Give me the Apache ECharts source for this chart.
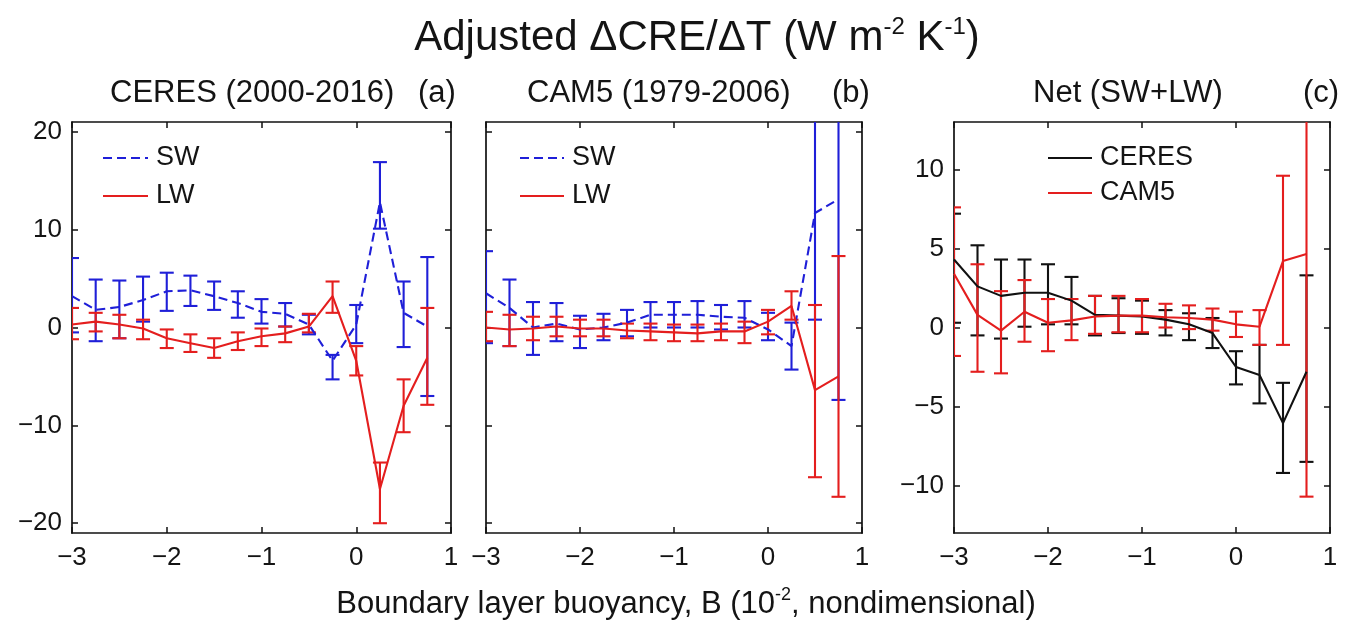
<!DOCTYPE html>
<html>
<head>
<meta charset="utf-8">
<script src="https://cdn.jsdelivr.net/npm/echarts@6/dist/echarts.min.js"></script>
<style>
html,body{margin:0;padding:0;background:#fff;}
#chart{width:1354px;height:626px;}
</style>
</head>
<body>
<div id="chart"></div>
<script>
// ---------- data ----------
const xs = [-3, -2.75, -2.5, -2.25, -2, -1.75, -1.5, -1.25, -1, -0.75, -0.5, -0.25, 0, 0.25, 0.5, 0.75];

// Panel (a) CERES (2000-2016)
const swA    = [3.2, 1.8, 2.1, 2.8, 3.7, 3.8, 3.2, 2.5, 1.6, 1.4, 0.3, -3.4, 0.3, 12.8, 1.5, 0.1];
const swALo  = [-0.5, -1.4, -1.1, 0.6, 1.7, 2.2, 1.8, 1.0, 0.4, 0.1, -0.7, -5.3, -1.6, 10.1, -2.0, -7.0];
const swAHi  = [7.1, 4.9, 4.8, 5.2, 5.6, 5.3, 4.7, 3.7, 2.9, 2.5, 1.3, -2.8, 2.3, 16.9, 4.7, 7.2];
const lwA    = [0.3, 0.6, 0.3, -0.1, -1.1, -1.6, -2.1, -1.4, -0.9, -0.6, 0.1, 3.2, -3.4, -16.5, -8.0, -3.1];
const lwALo  = [-1.2, -0.4, -1.1, -1.2, -2.1, -2.5, -3.1, -2.3, -1.9, -1.5, -0.5, 1.5, -4.9, -20.0, -10.7, -7.9];
const lwAHi  = [2.0, 1.5, 1.3, 0.8, -0.2, -0.7, -1.1, -0.5, -0.1, 0.1, 1.4, 4.7, -1.9, -13.8, -5.3, 2.0];

// Panel (b) CAM5 (1979-2006)
const swB    = [3.5, 2.0, 0.0, 0.4, -0.2, 0.0, 0.5, 1.3, 1.3, 1.3, 1.1, 1.0, -0.2, -1.9, 11.7, 13.1];
const swBLo  = [-1.6, -1.9, -2.8, -1.4, -2.1, -1.3, -0.9, 0.0, 0.0, 0.0, -0.2, 0.0, -1.3, -4.3, 0.8, -7.4];
const swBHi  = [7.8, 4.9, 2.6, 2.5, 1.2, 1.4, 1.8, 2.6, 2.6, 2.7, 2.3, 2.7, 1.5, 0.5, 22.6, 33.6];
const lwB    = [0.0, -0.2, -0.1, 0.1, -0.1, -0.1, -0.3, -0.4, -0.5, -0.6, -0.4, -0.4, 0.6, 2.2, -6.4, -5.0];
const lwBLo  = [-1.4, -1.9, -1.3, -0.9, -0.9, -0.9, -1.1, -1.3, -1.4, -1.4, -1.3, -1.6, -0.7, 0.8, -15.3, -17.3];
const lwBHi  = [1.6, 1.3, 1.1, 1.1, 0.8, 0.8, 0.4, 0.4, 0.3, 0.3, 0.4, 0.6, 1.8, 3.7, 2.3, 7.3];

// Panel (c) Net (SW+LW)
const ceres   = [4.3, 2.6, 2.0, 2.2, 2.2, 1.7, 0.8, 0.75, 0.7, 0.5, 0.2, -0.35, -2.5, -3.0, -6.05, -2.8];
const ceresLo = [0.3, -0.5, -0.7, 0.05, 0.2, 0.2, -0.5, -0.35, -0.4, -0.5, -0.8, -1.3, -3.6, -4.8, -9.2, -8.5];
const ceresHi = [7.2, 5.2, 4.3, 4.3, 4.0, 3.2, 2.0, 1.85, 1.7, 1.1, 0.9, 0.6, -1.5, -1.1, -3.5, 3.3];
const cam5    = [3.4, 0.8, -0.2, 1.0, 0.3, 0.45, 0.7, 0.75, 0.75, 0.65, 0.6, 0.5, 0.2, 0.05, 4.2, 4.65];
const cam5Lo  = [-1.8, -2.8, -2.9, -0.9, -1.5, -0.8, -0.4, -0.3, -0.3, 0.0, -0.1, -0.2, -0.6, -1.1, -1.1, -10.7];
const cam5Hi  = [7.6, 4.0, 2.3, 3.0, 1.8, 1.8, 2.0, 2.0, 1.8, 1.5, 1.4, 1.2, 1.0, 1.1, 9.6, 20.0];

const xTicks   = [-3, -2, -1, 0, 1];
const yTicksAB = [-20, -10, 0, 10, 20];
const yTicksC  = [-10, -5, 0, 5, 10];

// ---------- styling ----------
const FONT = '"Liberation Sans", Arial, Helvetica, sans-serif';
const BLUE = '#1f1fd8';
const RED = '#e41e1e';
const BLACK = '#111111';
const TXT = '#141414';

const grids = [
  {left: 72, top: 122, width: 379, height: 411},
  {left: 486, top: 122, width: 376, height: 411},
  {left: 954, top: 122, width: 376, height: 411}
];
const yRanges = [[-21, 21, yTicksAB, true], [-21, 21, yTicksAB, false], [-13, 13, yTicksC, true]];

function fmt(v) { return v < 0 ? '\u2212' + (-v) : String(v); }

const xAxes = [], yAxes = [];
grids.forEach((g, i) => {
  const axLine = {show: true, onZero: false, lineStyle: {color: BLACK, width: 1.7}};
  const tick = (vals) => ({inside: true, length: 6, customValues: vals, lineStyle: {color: BLACK, width: 1.5}});
  xAxes.push({
    type: 'value', gridIndex: i, min: -3, max: 1, interval: 1, position: 'bottom',
    axisLine: axLine, splitLine: {show: false}, axisTick: tick(xTicks),
    axisLabel: {show: true, customValues: xTicks, formatter: fmt, fontSize: 26, fontFamily: FONT, color: TXT, margin: 12,
                showMinLabel: true, showMaxLabel: true}
  });
  xAxes.push({
    type: 'value', gridIndex: i, min: -3, max: 1, interval: 1, position: 'top',
    axisLine: axLine, splitLine: {show: false}, axisTick: tick(xTicks),
    axisLabel: {show: false}
  });
  const [mn, mx, ticks, showLab] = yRanges[i];
  yAxes.push({
    type: 'value', gridIndex: i, min: mn, max: mx, position: 'left',
    axisLine: axLine, splitLine: {show: false}, axisTick: tick(ticks),
    axisLabel: {show: showLab, customValues: ticks, formatter: fmt, fontSize: 26, fontFamily: FONT, color: TXT, margin: 10}
  });
  yAxes.push({
    type: 'value', gridIndex: i, min: mn, max: mx, position: 'right',
    axisLine: axLine, splitLine: {show: false}, axisTick: tick(ticks),
    axisLabel: {show: false}
  });
});

function pts(m) { return xs.map((x, i) => [x, m[i]]); }
function bars(lo, hi) { return xs.map((x, i) => [x, lo[i], hi[i]]); }

const LW_MAIN = 2.1;
function lineSeries(name, gi, data, color, dashed) {
  return {
    type: 'line', name: name, xAxisIndex: gi * 2, yAxisIndex: gi * 2,
    data: pts(data), symbol: 'none', clip: true, silent: true, z: 3,
    lineStyle: {color: color, width: LW_MAIN, type: dashed ? [9, 5] : 'solid'},
    itemStyle: {color: color}
  };
}
function errSeries(name, gi, lo, hi, color) {
  return {
    type: 'custom', name: name, xAxisIndex: gi * 2, yAxisIndex: gi * 2,
    data: bars(lo, hi), clip: true, silent: true, z: 3,
    encode: {x: 0, y: [1, 2]},
    renderItem: function (params, api) {
      const x = api.value(0);
      const top = api.coord([x, api.value(2)]);
      const bot = api.coord([x, api.value(1)]);
      const w = 7;
      const st = {stroke: color, lineWidth: LW_MAIN};
      return {
        type: 'group',
        children: [
          {type: 'line', shape: {x1: top[0], y1: top[1], x2: bot[0], y2: bot[1]}, style: st},
          {type: 'line', shape: {x1: top[0] - w, y1: top[1], x2: top[0] + w, y2: top[1]}, style: st},
          {type: 'line', shape: {x1: bot[0] - w, y1: bot[1], x2: bot[0] + w, y2: bot[1]}, style: st}
        ]
      };
    }
  };
}

const series = [
  errSeries('SW err a', 0, swALo, swAHi, BLUE),
  lineSeries('SW', 0, swA, BLUE, true),
  errSeries('LW err a', 0, lwALo, lwAHi, RED),
  lineSeries('LW', 0, lwA, RED, false),
  errSeries('SW err b', 1, swBLo, swBHi, BLUE),
  lineSeries('SW', 1, swB, BLUE, true),
  errSeries('LW err b', 1, lwBLo, lwBHi, RED),
  lineSeries('LW', 1, lwB, RED, false),
  errSeries('CERES err', 2, ceresLo, ceresHi, BLACK),
  lineSeries('CERES', 2, ceres, BLACK, false),
  errSeries('CAM5 err', 2, cam5Lo, cam5Hi, RED),
  lineSeries('CAM5', 2, cam5, RED, false)
];

function richText(x, y, text, size, supSize) {
  return {
    type: 'text', x: x, y: y, silent: true,
    style: {
      text: text, align: 'center', verticalAlign: 'middle',
      fontFamily: FONT, fontSize: size, fill: TXT,
      rich: {
        n: {fontFamily: FONT, fontSize: size, fill: TXT, lineHeight: size + 4},
        s: {fontFamily: FONT, fontSize: supSize, fill: TXT, lineHeight: supSize, verticalAlign: 'top'}
      }
    }
  };
}
function plainText(x, y, text, size) {
  return {
    type: 'text', x: x, y: y, silent: true,
    style: {text: text, align: 'left', verticalAlign: 'middle', fontFamily: FONT, fontSize: size, fill: TXT}
  };
}
function legendItem(x1, x2, y, color, dashed, label) {
  return [
    {type: 'line', silent: true, z: 10,
     shape: {x1: x1, y1: y, x2: x2, y2: y},
     style: {stroke: color, lineWidth: LW_MAIN, lineDash: dashed ? [9, 5] : null}},
    plainText(x2 + 8, y, label, 27)
  ];
}

const graphics = [
  richText(697, 38, '{n|Adjusted \u0394CRE/\u0394T (W m}{s|-2}{n| K}{s|-1}{n|)}', 42, 24),
  plainText(110, 93, 'CERES (2000-2016)', 31),
  plainText(418, 93, '(a)', 31),
  plainText(527, 93, 'CAM5 (1979-2006)', 31),
  plainText(832, 93, '(b)', 31),
  plainText(1033, 93, 'Net (SW+LW)', 31),
  plainText(1303, 93, '(c)', 31),
  richText(686, 604, '{n|Boundary layer buoyancy, B (10}{s|-2}{n|, nondimensional)}', 31, 18),
  ...legendItem(103, 148, 158, BLUE, true, 'SW'),
  ...legendItem(103, 148, 196, RED, false, 'LW'),
  ...legendItem(520, 564, 158, BLUE, true, 'SW'),
  ...legendItem(520, 564, 196, RED, false, 'LW'),
  ...legendItem(1048, 1092, 158, BLACK, false, 'CERES'),
  ...legendItem(1048, 1092, 193, RED, false, 'CAM5')
];

const chart = echarts.init(document.getElementById('chart'), null, {renderer: 'canvas'});
chart.setOption({
  animation: false,
  backgroundColor: '#ffffff',
  grid: grids,
  xAxis: xAxes,
  yAxis: yAxes,
  series: series,
  graphic: graphics
});
</script>
</body>
</html>
